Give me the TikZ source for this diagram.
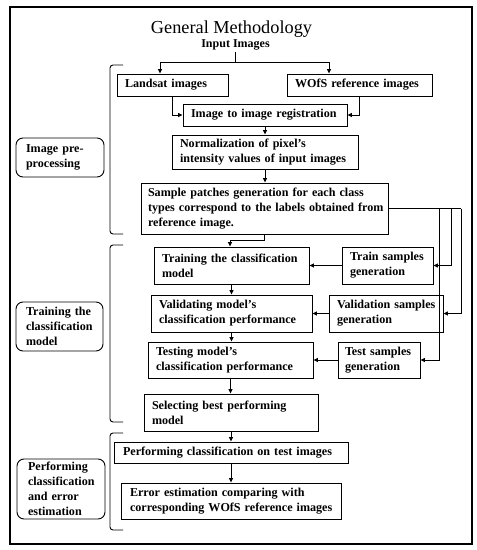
\documentclass[tikz,border=0pt]{standalone}
\usepackage{fontspec}
\setmainfont{Liberation Serif}
\usetikzlibrary{arrows.meta}
\begin{document}
\begin{tikzpicture}[x=1bp,y=-1bp,
  box/.style={draw, line width=0.9bp, inner xsep=8bp, inner ysep=0bp, align=left,
    font=\fontsize{12.1bp}{15bp}\selectfont\bfseries, anchor=center},
  lab/.style={box, rounded corners=7bp, inner xsep=10bp},
  arr/.style={line width=0.9bp, -{Triangle[length=4.5bp,width=4bp]}},
  ln/.style={line width=0.9bp},
  brk/.style={line width=0.9bp, rounded corners=3bp}]
\useasboundingbox (0,0) rectangle (477,550);
\draw[line width=1.6bp] (10,7) rectangle (472,544);

\node[font=\fontsize{18.3bp}{20bp}\selectfont, inner sep=0bp, anchor=base] (title) at (231.5,34) {General Methodology};
\node[font=\fontsize{12bp}{14bp}\selectfont\bfseries, inner sep=1bp, anchor=base] (inp) at (235.5,48) {Input Images};

\node[box, minimum width=111bp, minimum height=22bp, text width=95bp] (land) at (172.5,85) {Landsat images};
\node[box, minimum width=145bp, minimum height=22bp, text width=129bp] (wofs) at (359.5,85) {\mbox{WOfS reference images}};
\node[box, minimum width=164bp, minimum height=22bp, text width=148bp] (reg) at (265,115) {\mbox{Image to image registration}};
\node[box, minimum width=186bp, minimum height=34bp, text width=170bp] (norm) at (265,152) {Normalization of pixel’s\\\mbox{intensity values of input images}};
\node[box, minimum width=247bp, minimum height=51bp, text width=233bp, inner xsep=7bp] (samp) at (264.5,208.5) {\mbox{Sample patches generation for each class}\\\mbox{types correspond to the labels obtained from}\\reference image.};
\node[box, minimum width=155bp, minimum height=37bp, text width=139bp] (train) at (231.5,265.5) {\mbox{Training the classification}\\model};
\node[box, minimum width=161bp, minimum height=37bp, text width=145bp] (valid) at (231.5,313.5) {Validating model’s\\\mbox{classification performance}};
\node[box, minimum width=165bp, minimum height=36bp, text width=149bp] (test) at (230.5,360) {Testing model’s\\\mbox{classification performance}};
\node[box, minimum width=174bp, minimum height=37bp, text width=158bp] (select) at (231,412.5) {\mbox{Selecting best performing}\\model};
\node[box, minimum width=234bp, minimum height=21bp, text width=216bp, inner xsep=9bp] (perf) at (231,452.5) {\mbox{Performing classification on test images}};
\node[box, minimum width=220bp, minimum height=36bp, text width=202bp, inner xsep=9bp] (err) at (231,501) {\mbox{Error estimation comparing with}\\\mbox{corresponding WOfS reference images}};
\node[box, minimum width=91bp, minimum height=37bp, text width=75bp] (trs) at (387.5,265.5) {\mbox{Train samples}\\generation};
\node[box, minimum width=114bp, minimum height=37bp, text width=98bp] (vals) at (386,313.5) {\mbox{Validation samples}\\generation};
\node[box, minimum width=82bp, minimum height=36bp, text width=68bp, inner xsep=7bp] (tests) at (379,360) {\mbox{Test samples}\\generation};

\node[lab, minimum width=88bp, minimum height=39bp, text width=68bp] (l1) at (60,157.5) {\mbox{Image pre-}\\processing};
\node[lab, minimum width=87bp, minimum height=49bp, text width=67bp] (l2) at (59.5,326.5) {\mbox{Training the}\\\mbox{classification}\\model};
\node[lab, minimum width=88bp, minimum height=60bp, text width=66bp, inner xsep=11bp] (l3) at (61,489) {Performing\\\mbox{classification}\\\mbox{and error}\\estimation};

% brackets
\draw[brk] (123,65) -- (110,65) -- (110,234) -- (123,234);
\draw[brk] (123,245) -- (110,245) -- (110,422) -- (123,422);
\draw[brk] (123,433) -- (110,433) -- (110,530) -- (123,530);

% connectors
\coordinate (j1) at (235.5,62);
\draw[ln] (inp.south) -- (j1);
\draw[arr] (j1) -| ([xshift=-12.5bp]land.north);
\draw[arr] (j1) -| ([xshift=-30.5bp]wofs.north);
\draw[arr] (land.south) |- (reg.west);
\draw[arr] (wofs.south) |- (reg.east);
\draw[arr] (reg.south) -- (reg.south |- norm.north);
\draw[arr] (norm.south) -- (norm.south |- samp.north);
\coordinate (j2) at (264.5,240);
\draw[arr] (samp.south) -- (j2) -| ([xshift=-1.5bp]train.north);
\draw[arr] (train.south) -- (train.south |- valid.north);
\draw[arr] (valid.south) -- (valid.south |- test.north);
\draw[arr] (test.south) -- (test.south |- select.north);
\draw[arr] (select.south) -- (select.south |- perf.north);
\draw[arr] (perf.south) -- (perf.south |- err.north);

\coordinate (ra) at (439,208.5);
\coordinate (rb) at (451,208.5);
\coordinate (rc) at (461,208.5);
\draw[ln] (samp.east) -- (rc);
\draw[arr] (rb) |- (trs.east);
\draw[arr] (rc) |- (vals.east);
\draw[arr] (ra) |- (tests.east);
\draw[arr] (trs.west) -- (trs.west -| train.east);
\draw[arr] (vals.west) -- (vals.west -| valid.east);
\draw[arr] (tests.west) -- (tests.west -| test.east);
\end{tikzpicture}
\end{document}
